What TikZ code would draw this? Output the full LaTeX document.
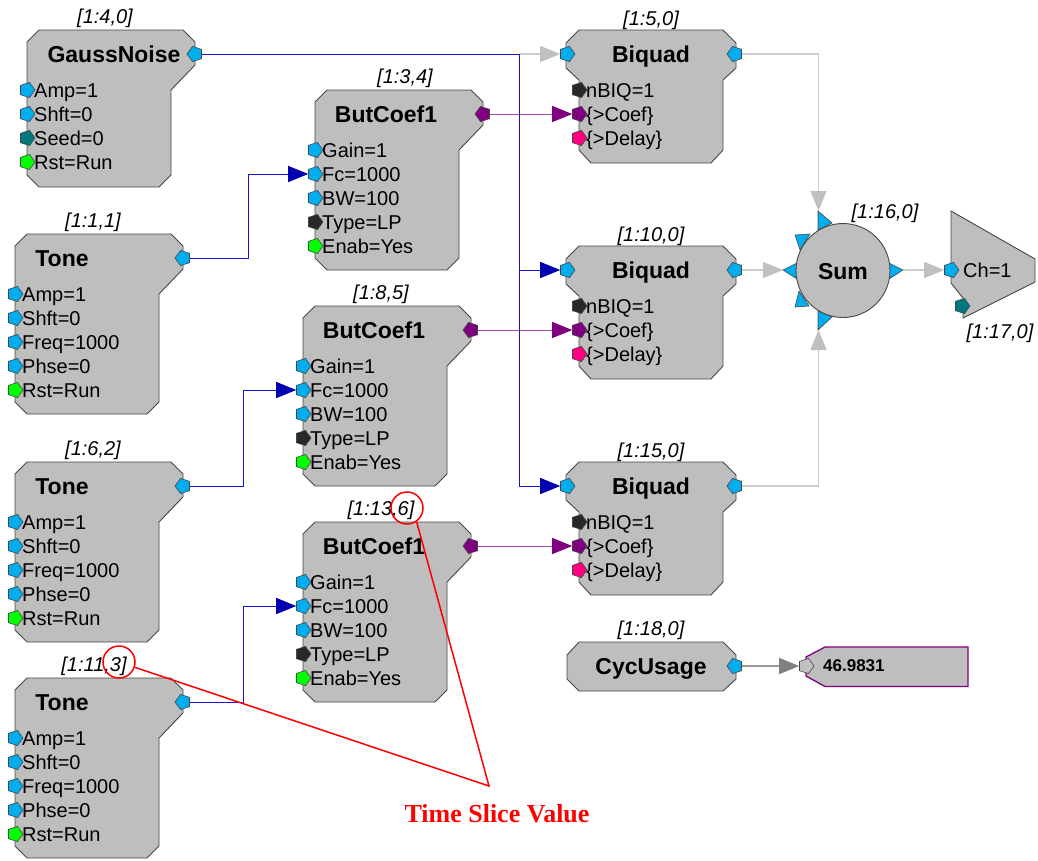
\documentclass[tikz,border=0pt]{standalone}
\usepackage{fontspec}
\setmainfont{Liberation Sans}
\newfontfamily\serifbold{Liberation Serif}
\usetikzlibrary{arrows.meta,shapes.geometric}
\definecolor{bodygrey}{RGB}{190, 190, 190}
\definecolor{edgegrey}{RGB}{70, 70, 70}
\definecolor{portteal}{RGB}{0, 120, 125}
\definecolor{portblack}{RGB}{40, 40, 40}
\definecolor{portpink}{RGB}{255, 0, 128}
\definecolor{portpurple}{RGB}{128, 0, 128}
\definecolor{wireblue}{RGB}{20, 20, 215}
\definecolor{tipblue}{RGB}{0, 0, 176}
\definecolor{wirepurple}{RGB}{165, 70, 165}
\definecolor{wiregrey}{RGB}{205, 205, 205}
\definecolor{tipgrey}{RGB}{192, 192, 192}
\tikzstyle{blockbody}=[draw=edgegrey,fill=bodygrey,line width=0.9pt]
\tikzstyle{porthex}=[regular polygon,regular polygon sides=5,draw=edgegrey,line width=0.6pt,inner sep=0pt,minimum size=16pt]
\tikzstyle{inport}=[porthex,shape border rotate=-90]
\tikzstyle{outport}=[porthex,shape border rotate=90]
\tikzstyle{portlabel}=[anchor=west,xshift=7pt,inner sep=0pt,text height=14pt,text depth=0pt,font=\fontsize{20}{22}\selectfont]
\tikzstyle{blocktitle}=[inner sep=0pt,text height=16pt,text depth=0pt,font=\fontsize{23}{25}\selectfont\bfseries]
\tikzstyle{slicelabel}=[inner sep=0pt,text height=14pt,text depth=0pt,font=\fontsize{20}{22}\selectfont\itshape]
\tikzstyle{spike}=[draw=edgegrey,fill=cyan,line width=0.6pt]
\tikzstyle{bluewire}=[draw=wireblue,line width=1pt]
\tikzstyle{bluearc}=[bluewire,-{Triangle[length=20pt,width=16pt,color=tipblue]}]
\tikzstyle{purplearc}=[draw=wirepurple,line width=1pt,-{Triangle[length=20pt,width=16pt,color=portpurple]}]
\tikzstyle{greywire}=[draw=wiregrey,line width=1.2pt]
\tikzstyle{greyarc}=[greywire,-{Triangle[length=20pt,width=16pt,color=tipgrey]}]
\tikzstyle{darkarc}=[draw=gray!80,line width=1.2pt,-{Triangle[length=20pt,width=16pt,color=gray]}]
\tikzstyle{redwire}=[draw=red,line width=1.5pt]
\tikzstyle{redring}=[circle,redwire,inner sep=0pt,minimum size=32pt]
\newcommand{\sourcebody}[3]{\draw[blockbody] (#1,#2+12) -- ++(12,-12) -- ++(144,0) -- ++(12,12) -- ++(0,23) -- ++(-24,25) -- (#1+144,#2+#3-12) -- ++(-12,12) -- (#1+12,#2+#3) -- ++(-12,-12) -- cycle;}
\newcommand{\filterbody}[2]{\draw[blockbody] (#1,#2+13) -- ++(13,-13) -- ++(144,0) -- ++(13,13) -- ++(0,25) -- ++(-13,12) -- ++(0,70) -- ++(-12,13) -- ++(-120,0) -- ++(-12,-13) -- ++(0,-70) -- ++(-13,-12) -- cycle;}
\newcommand{\portrow}[5]{\node[inport,fill=#4] (#1) at (#2,#3) {}; \node[portlabel] (#1TXT) at (#1.center) {#5};}
\begin{document}
\begin{tikzpicture}[x=1pt,y=-1pt]
\useasboundingbox (0,0) rectangle (1038,860);

\sourcebody{27}{30}{157}
\node[blocktitle] (G1) at (114,54) {GaussNoise};
\node[slicelabel] (G1S) at (105,16) {[1:4,0]};
\node[outport,fill=cyan] (G1OUT) at (195,54) {};
\portrow{G1AMP}{27}{90}{cyan}{Amp=1}
\portrow{G1SHFT}{27}{114}{cyan}{Shft=0}
\portrow{G1SEED}{27}{138}{portteal}{Seed=0}
\portrow{G1RST}{27}{162}{green}{Rst=Run}

\sourcebody{15}{234}{180}
\node[blocktitle] (T1) at (62,258) {Tone};
\node[slicelabel] (T1S) at (93,220) {[1:1,1]};
\node[outport,fill=cyan] (T1OUT) at (183,258) {};
\portrow{T1AMP}{15}{294}{cyan}{Amp=1}
\portrow{T1SHFT}{15}{318}{cyan}{Shft=0}
\portrow{T1FREQ}{15}{342}{cyan}{Freq=1000}
\portrow{T1PHSE}{15}{366}{cyan}{Phse=0}
\portrow{T1RST}{15}{390}{green}{Rst=Run}

\sourcebody{15}{462}{180}
\node[blocktitle] (T2) at (62,486) {Tone};
\node[slicelabel] (T2S) at (93,448) {[1:6,2]};
\node[outport,fill=cyan] (T2OUT) at (183,486) {};
\portrow{T2AMP}{15}{522}{cyan}{Amp=1}
\portrow{T2SHFT}{15}{546}{cyan}{Shft=0}
\portrow{T2FREQ}{15}{570}{cyan}{Freq=1000}
\portrow{T2PHSE}{15}{594}{cyan}{Phse=0}
\portrow{T2RST}{15}{618}{green}{Rst=Run}

\sourcebody{15}{678}{180}
\node[blocktitle] (T3) at (62,702) {Tone};
\node[slicelabel] (T3S) at (94,664) {[1:11,3]};
\node[outport,fill=cyan] (T3OUT) at (183,702) {};
\portrow{T3AMP}{15}{738}{cyan}{Amp=1}
\portrow{T3SHFT}{15}{762}{cyan}{Shft=0}
\portrow{T3FREQ}{15}{786}{cyan}{Freq=1000}
\portrow{T3PHSE}{15}{810}{cyan}{Phse=0}
\portrow{T3RST}{15}{834}{green}{Rst=Run}

\sourcebody{315}{90}{180}
\node[blocktitle] (C1) at (386,114) {ButCoef1};
\node[slicelabel] (C1S) at (405,76) {[1:3,4]};
\node[outport,fill=portpurple] (C1OUT) at (483,114) {};
\portrow{C1GAIN}{315}{150}{cyan}{Gain=1}
\portrow{C1FC}{315}{174}{cyan}{Fc=1000}
\portrow{C1BW}{315}{198}{cyan}{BW=100}
\portrow{C1TYPE}{315}{222}{portblack}{Type=LP}
\portrow{C1ENAB}{315}{246}{green}{Enab=Yes}

\sourcebody{303}{306}{180}
\node[blocktitle] (C2) at (374,330) {ButCoef1};
\node[slicelabel] (C2S) at (381,292) {[1:8,5]};
\node[outport,fill=portpurple] (C2OUT) at (471,330) {};
\portrow{C2GAIN}{303}{366}{cyan}{Gain=1}
\portrow{C2FC}{303}{390}{cyan}{Fc=1000}
\portrow{C2BW}{303}{414}{cyan}{BW=100}
\portrow{C2TYPE}{303}{438}{portblack}{Type=LP}
\portrow{C2ENAB}{303}{462}{green}{Enab=Yes}

\sourcebody{303}{522}{180}
\node[blocktitle] (C3) at (374,546) {ButCoef1};
\node[slicelabel] (C3S) at (381,508) {[1:13,6]};
\node[outport,fill=portpurple] (C3OUT) at (471,546) {};
\portrow{C3GAIN}{303}{582}{cyan}{Gain=1}
\portrow{C3FC}{303}{606}{cyan}{Fc=1000}
\portrow{C3BW}{303}{630}{cyan}{BW=100}
\portrow{C3TYPE}{303}{654}{portblack}{Type=LP}
\portrow{C3ENAB}{303}{678}{green}{Enab=Yes}

\filterbody{566}{30}
\node[blocktitle] (B1) at (651,54) {Biquad};
\node[slicelabel] (B1S) at (651,18) {[1:5,0]};
\node[inport,fill=cyan] (B1IN) at (567,54) {};
\node[outport,fill=cyan] (B1OUT) at (735,54) {};
\portrow{B1NBIQ}{579}{90}{portblack}{nBIQ=1}
\portrow{B1COEF}{579}{114}{portpurple}{\{>Coef\}}
\portrow{B1DELAY}{579}{138}{portpink}{\{>Delay\}}

\filterbody{566}{246}
\node[blocktitle] (B2) at (651,270) {Biquad};
\node[slicelabel] (B2S) at (651,234) {[1:10,0]};
\node[inport,fill=cyan] (B2IN) at (567,270) {};
\node[outport,fill=cyan] (B2OUT) at (735,270) {};
\portrow{B2NBIQ}{579}{306}{portblack}{nBIQ=1}
\portrow{B2COEF}{579}{330}{portpurple}{\{>Coef\}}
\portrow{B2DELAY}{579}{354}{portpink}{\{>Delay\}}

\filterbody{566}{462}
\node[blocktitle] (B3) at (651,486) {Biquad};
\node[slicelabel] (B3S) at (651,450) {[1:15,0]};
\node[inport,fill=cyan] (B3IN) at (567,486) {};
\node[outport,fill=cyan] (B3OUT) at (735,486) {};
\portrow{B3NBIQ}{579}{522}{portblack}{nBIQ=1}
\portrow{B3COEF}{579}{546}{portpurple}{\{>Coef\}}
\portrow{B3DELAY}{579}{570}{portpink}{\{>Delay\}}

% sum block
\draw[spike] (818,211) -- (832,223) -- (818,230) -- cycle;
\draw[spike] (795,235) -- (810,234) -- (800,250) -- cycle;
\draw[spike] (783,270) -- (797,263) -- (797,279) -- cycle;
\draw[spike] (795,307) -- (809,306) -- (799,291) -- cycle;
\draw[spike] (818,330) -- (832,317) -- (818,311) -- cycle;
\draw[spike] (903,270) -- (889,263) -- (889,279) -- cycle;
\node[circle,blockbody,inner sep=0pt,minimum size=94pt] (SUM) at (843,270.5) {};
\node[blocktitle] (SUMT) at (843,271) {Sum};
\node[slicelabel] (SUMS) at (885,211) {[1:16,0]};
\coordinate (SUMNORTH) at (818.5,211);
\coordinate (SUMSOUTH) at (818.5,330);
\coordinate (SUMWEST) at (783,270);
\coordinate (SUMEAST) at (903,270);

% output block
\draw[blockbody] (951,211) -- (1035,259) -- (1035,282) -- (963,318) -- (963,298) -- (951,283) -- cycle;
\node[inport,fill=cyan] (OUTIN) at (951,270) {};
\node[inport,fill=portteal] (OUTGAIN) at (962,306) {};
\node[portlabel] (OUTT) at (956,270) {Ch=1};
\node[slicelabel] (OUTS) at (1000,331) {[1:17,0]};

% cycle usage
\draw[blockbody] (567,655) -- ++(12,-13) -- ++(144,0) -- ++(13,13) -- ++(0,24) -- ++(-13,12) -- ++(-144,0) -- ++(-12,-12) -- cycle;
\node[blocktitle] (CU) at (651,666) {CycUsage};
\node[slicelabel] (CUS) at (651,628) {[1:18,0]};
\node[outport,fill=cyan] (CUOUT) at (735,666) {};
\draw[draw=portpurple,fill=bodygrey,line width=1.3pt] (806,657) -- (825,647) -- (968,647) -- (968,686.5) -- (825,686.5) -- (806,676) -- cycle;
\node[inport,fill=tipgrey] (DISPIN) at (806,666) {};
\node[inner sep=0pt,anchor=west,font=\fontsize{17}{19}\selectfont\bfseries] (DISP) at (823,666) {46.9831};

\coordinate (GJOINT1) at (519,54);
\coordinate (GJOINT2) at (519,270);
\coordinate (GJOINT3) at (519,486);
\coordinate (T1BEND) at (248,174);
\coordinate (T2BEND) at (243,390);
\coordinate (T3BEND) at (243,606);

\draw[purplearc] (C1OUT.east) -- (B1COEF.west);
\draw[purplearc] (C2OUT.east) -- (B2COEF.west);
\draw[purplearc] (C3OUT.east) -- (B3COEF.west);
\draw[greyarc] (GJOINT1) -- (B1IN.west);
\draw[bluewire] (G1OUT.east) -- (GJOINT1) -- (GJOINT3);
\draw[bluearc] (GJOINT2) -- (B2IN.west);
\draw[bluearc] (GJOINT3) -- (B3IN.west);
\draw[bluearc] (T1OUT.east) -| (T1BEND) -- (C1FC.west);
\draw[bluearc] (T2OUT.east) -| (T2BEND) -- (C2FC.west);
\draw[bluearc] (T3OUT.east) -| (T3BEND) -- (C3FC.west);
\draw[greyarc] (B1OUT.east) -| (SUMNORTH);
\draw[greyarc] (B2OUT.east) -- (SUMWEST);
\draw[greyarc] (B3OUT.east) -| (SUMSOUTH);
\draw[greyarc] (SUMEAST) -- (OUTIN.west);
\draw[darkarc] (CUOUT.east) -- (DISPIN.west);

% time slice callout
\node[redring] (RING1) at (407,508) {};
\node[redring] (RING2) at (119,662) {};
\coordinate (TIPRED) at (489,786);
\draw[redwire] (RING2) -- (TIPRED) -- (RING1.-55);
\node[inner sep=0pt,text=red,font=\fontsize{26}{28}\selectfont\serifbold\bfseries] (TSV) at (497,814) {Time Slice Value};

\end{tikzpicture}
\end{document}
